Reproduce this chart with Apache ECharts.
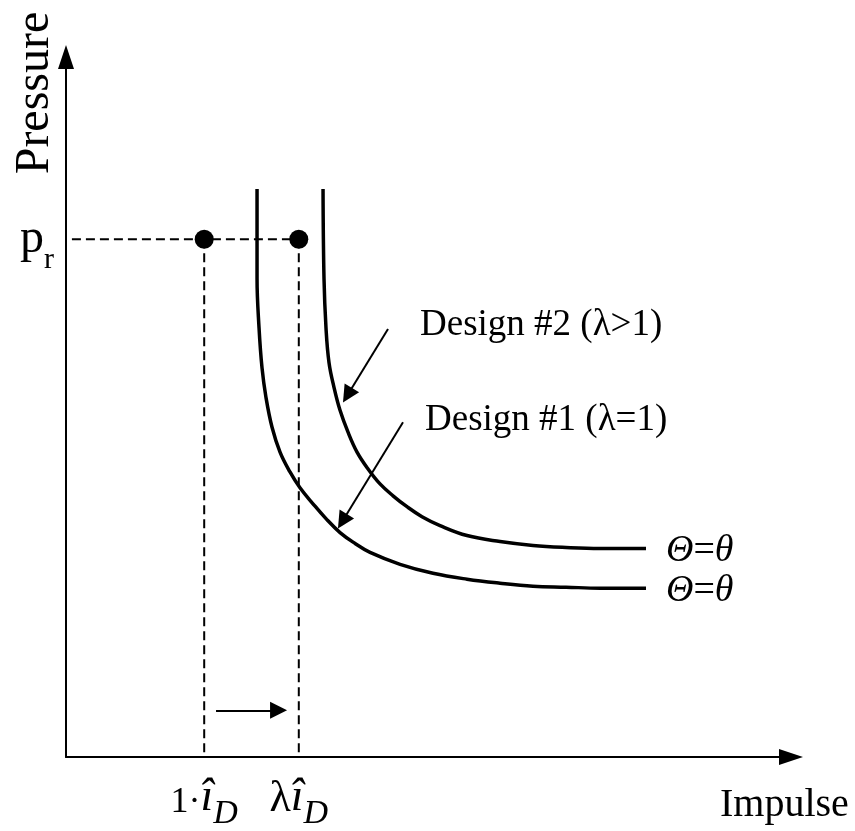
<!DOCTYPE html>
<html><head><meta charset="utf-8">
<script src="https://cdn.jsdelivr.net/npm/echarts@6/dist/echarts.min.js"></script>
<style>html,body{margin:0;padding:0;background:#fff}#c{width:855px;height:831px}</style>
</head><body><div id="c"></div>
<script>
// Values (arbitrary units: impulse on x, pressure on y)
const impulseTicks = [18.7, 31.5];          // 1·î_D and λî_D
const impulseTickLabels = ['1·', 'λ'];      // prefix before î_D
const pressureRef = 72.7;                   // p_r
const design1X = [25.85, 25.85, 26.12, 26.52, 27.06, 27.88, 28.96, 30.31, 31.66, 33.42, 35.18, 37.08, 39.11, 41.14, 45.20, 49.66, 54.26, 58.73, 63.19, 67.66, 72.26, 78.48];
const design1Y = [79.78, 67.22, 60.25, 54.67, 50.49, 46.30, 42.82, 40.03, 37.80, 35.56, 33.47, 31.52, 29.99, 28.73, 27.06, 25.80, 24.97, 24.41, 23.99, 23.85, 23.71, 23.71];
const design2X = [34.78, 34.91, 35.18, 35.59, 36.27, 37.08, 38.16, 39.38, 40.87, 42.49, 44.25, 46.14, 48.17, 50.61, 54.26, 58.73, 63.19, 67.66, 72.26, 78.48];
const design2Y = [79.78, 67.22, 60.25, 55.37, 51.88, 48.68, 45.61, 42.82, 40.45, 38.35, 36.68, 35.15, 33.75, 32.50, 31.10, 30.26, 29.71, 29.43, 29.29, 29.29];
// annotation arrows: [tail, arrow-head centre]
const arrowDesign2 = [[43.57, 60.11], [38.08, 50.81]];
const arrowDesign1 = [[45.60, 47.00], [37.40, 33.10]];
const arrowShift = [[20.30, 6.56], [28.76, 6.56]];
const dashStartX = 0.8;

const serif = 'Liberation Serif';
const zip = (xs, ys) => xs.map((x, i) => [x, ys[i]]);
const chart = echarts.init(document.getElementById('c'), null, {renderer: 'canvas'});
const thetaLabel = {
  show: true, distance: 20, offset: [0, 3], formatter: '{it|Θ}{eq|=}{it|θ}',
  rich: {
    it: {fontFamily: serif, fontStyle: 'italic', fontSize: 38, color: '#000'},
    eq: {fontFamily: serif, fontSize: 38, color: '#000'}
  }
};
const arrowSeries = (coords) => ({
  type: 'lines', coordinateSystem: 'cartesian2d', silent: true,
  symbol: ['none', 'triangle'], symbolSize: [0, 17],
  lineStyle: {color: '#000', width: 2, opacity: 1, curveness: 0},
  data: [{coords: coords}]
});
chart.setOption({
  animation: false,
  backgroundColor: '#fff',
  grid: {left: 66, right: 64, top: 57, bottom: 69},
  xAxis: {
    type: 'value', min: 0, max: 98.1,
    splitLine: {show: false}, axisTick: {show: false},
    axisLine: {show: true, lineStyle: {color: '#000', width: 2}, symbol: ['none', 'triangle'], symbolSize: [16, 24]},
    axisLabel: {
      customValues: impulseTicks, margin: 16, color: '#000',
      formatter: (v) => {
        const idx = impulseTicks.indexOf(v);
        return (idx === 0 ? '{one|' + impulseTickLabels[0] + '}' : '{lam|' + impulseTickLabels[1] + '}') + '{hat|î}{sub|D}';
      },
      rich: {
        one: {fontFamily: serif, fontSize: 36, color: '#000', verticalAlign: 'bottom', lineHeight: 48},
        lam: {fontFamily: serif, fontSize: 44, color: '#000', verticalAlign: 'bottom', lineHeight: 48},
        hat: {fontFamily: serif, fontStyle: 'italic', fontSize: 46, color: '#000', verticalAlign: 'bottom', lineHeight: 48},
        sub: {fontFamily: serif, fontStyle: 'italic', fontSize: 34, color: '#000', verticalAlign: 'bottom', lineHeight: 48, padding: [0, 0, -10, 0]}
      }
    }
  },
  yAxis: {
    type: 'value', min: 0, max: 98.3,
    splitLine: {show: false}, axisTick: {show: false},
    axisLine: {show: true, lineStyle: {color: '#000', width: 2}, symbol: ['none', 'triangle'], symbolSize: [16, 24]},
    axisLabel: {
      customValues: [pressureRef], margin: 12, color: '#000',
      formatter: () => '{pp|p}{rr|r}',
      rich: {
        pp: {fontFamily: serif, fontSize: 48, color: '#000', verticalAlign: 'bottom', lineHeight: 48},
        rr: {fontFamily: serif, fontSize: 30, color: '#000', verticalAlign: 'bottom', lineHeight: 48, padding: [0, 0, -12, 0]}
      }
    }
  },
  graphic: [
    {type: 'text', x: 35, y: 93, rotation: Math.PI / 2,
     style: {text: 'Pressure', font: '48px "Liberation Serif"', fill: '#000', align: 'center', verticalAlign: 'middle'}},
    {type: 'text', x: 720, y: 805,
     style: {text: 'Impulse', font: '40px "Liberation Serif"', fill: '#000', align: 'left', verticalAlign: 'middle'}},
    {type: 'text', x: 420, y: 325,
     style: {text: 'Design #2 (λ>1)', font: '37px "Liberation Serif"', fill: '#000', align: 'left', verticalAlign: 'middle'}},
    {type: 'text', x: 425, y: 420,
     style: {text: 'Design #1 (λ=1)', font: '37px "Liberation Serif"', fill: '#000', align: 'left', verticalAlign: 'middle'}}
  ],
  series: [
    {type: 'line', name: 'ref-h', data: [[dashStartX, pressureRef], [impulseTicks[1], pressureRef]], symbol: 'none',
     lineStyle: {color: '#000', width: 2, type: [9, 5]}},
    {type: 'line', name: 'ref-v1', data: [[impulseTicks[0], pressureRef], [impulseTicks[0], 0]], symbol: 'none',
     lineStyle: {color: '#000', width: 2, type: [9, 5]}},
    {type: 'line', name: 'ref-v2', data: [[impulseTicks[1], pressureRef], [impulseTicks[1], 0]], symbol: 'none',
     lineStyle: {color: '#000', width: 2, type: [9, 5]}},
    {type: 'line', name: 'Design #1', data: zip(design1X, design1Y), smooth: 0.4, symbol: 'none',
     lineStyle: {color: '#000', width: 3.5}, endLabel: thetaLabel},
    {type: 'line', name: 'Design #2', data: zip(design2X, design2Y), smooth: 0.4, symbol: 'none',
     lineStyle: {color: '#000', width: 3.5}, endLabel: thetaLabel},
    {type: 'scatter', data: impulseTicks.map(x => [x, pressureRef]), symbolSize: 19, itemStyle: {color: '#000', opacity: 1}},
    arrowSeries(arrowDesign2),
    arrowSeries(arrowDesign1),
    arrowSeries(arrowShift)
  ]
});
</script></body></html>
